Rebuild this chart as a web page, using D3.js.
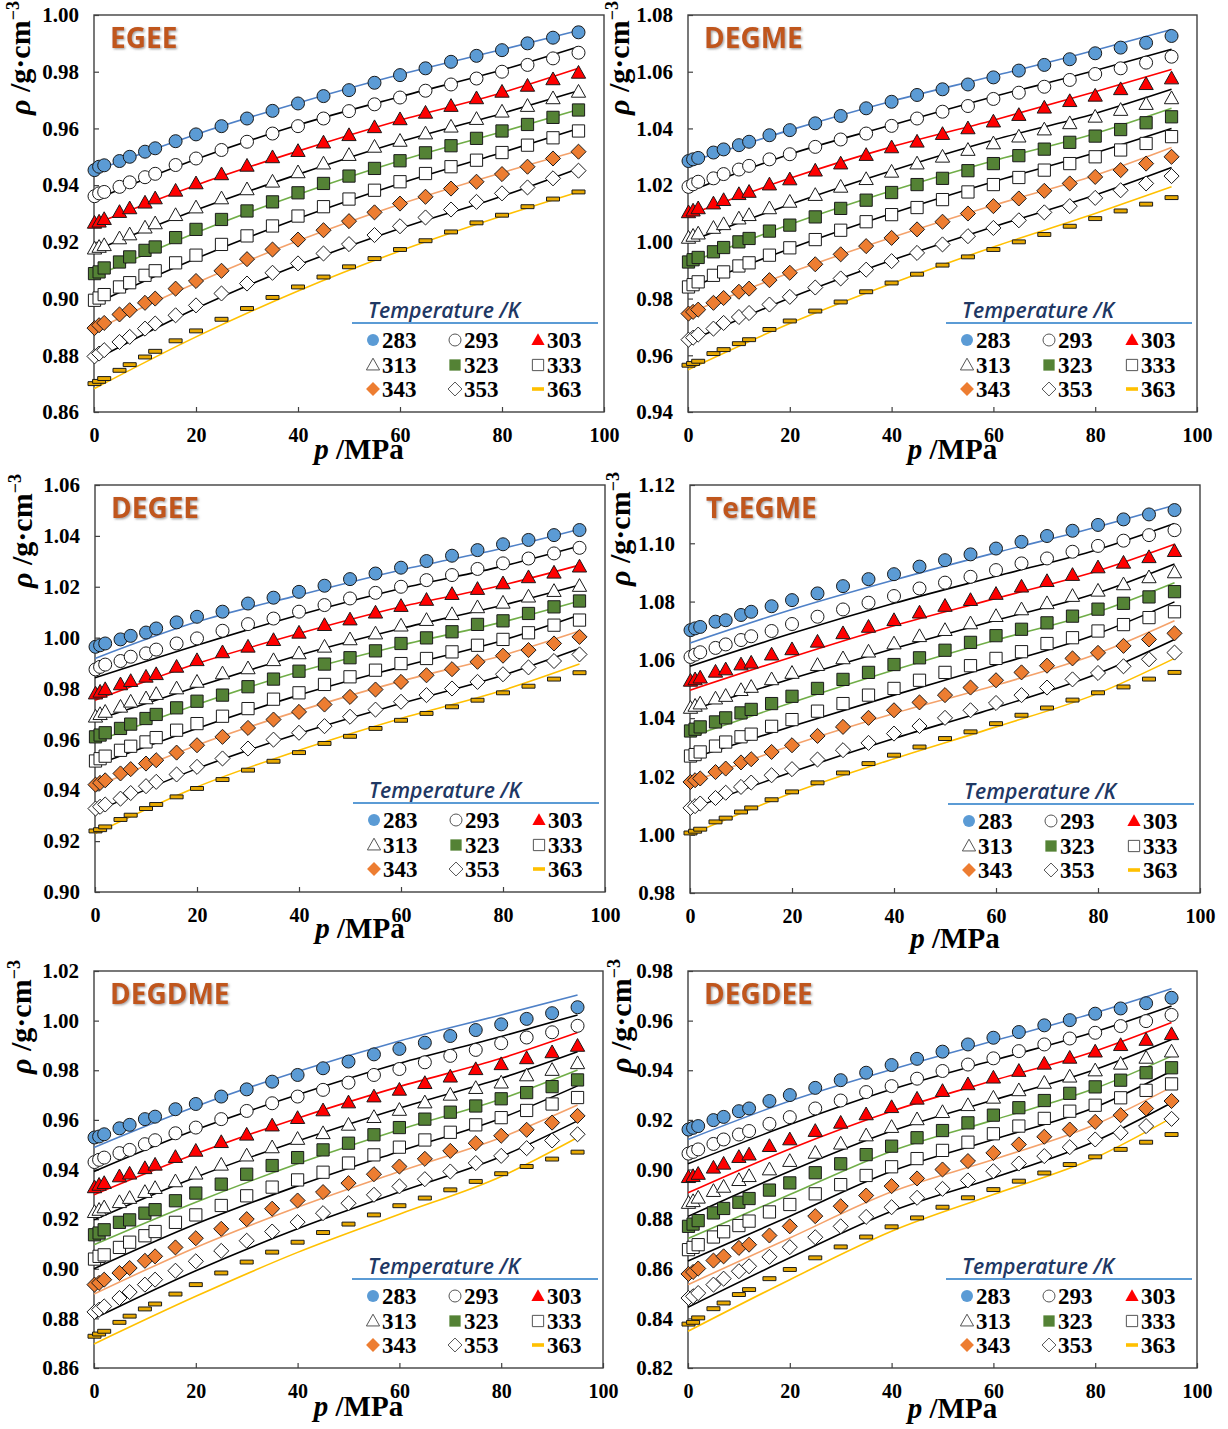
<!DOCTYPE html>
<html>
<head>
<meta charset="utf-8">
<script src="https://cdn.jsdelivr.net/npm/d3@7"></script>
<style>
  html, body { margin: 0; padding: 0; background: #ffffff; }
  svg { display: block; }
</style>
</head>
<body>
<svg id="chart" width="1228" height="1429"></svg>
<script>
// Measured pressures (MPa) and temperatures (K)
const pressures = [0.1, 1, 2, 5, 7, 10, 12, 16, 20, 25, 30, 35, 40, 45, 50, 55, 60, 65, 70, 75, 80, 85, 90, 95];
const fitPressures = [0, 20, 40, 60, 80, 95];
const temperatures = [283, 293, 303, 313, 323, 333, 343, 353, 363];
const xTicks = [0, 20, 40, 60, 80, 100];

// Density axes (g·cm-3)
const yTicksEGEE   = [0.86, 0.88, 0.90, 0.92, 0.94, 0.96, 0.98, 1.00];
const yTicksDEGME  = [0.94, 0.96, 0.98, 1.00, 1.02, 1.04, 1.06, 1.08];
const yTicksDEGEE  = [0.90, 0.92, 0.94, 0.96, 0.98, 1.00, 1.02, 1.04, 1.06];
const yTicksTeEGME = [0.98, 1.00, 1.02, 1.04, 1.06, 1.08, 1.10, 1.12];
const yTicksDEGDME = [0.86, 0.88, 0.90, 0.92, 0.94, 0.96, 0.98, 1.00, 1.02];
const yTicksDEGDEE = [0.82, 0.84, 0.86, 0.88, 0.90, 0.92, 0.94, 0.96, 0.98];

// Experimental densities, one row per temperature, one value per pressure
const rhoEGEE = [
  [0.9453,0.9465,0.9470,0.9485,0.9500,0.9518,0.9530,0.9555,0.9579,0.9608,0.9635,0.9662,0.9688,0.9714,0.9735,0.9761,0.9788,0.9812,0.9835,0.9856,0.9876,0.9900,0.9920,0.9939],
  [0.9361,0.9371,0.9376,0.9394,0.9410,0.9428,0.9440,0.9471,0.9494,0.9524,0.9553,0.9582,0.9608,0.9635,0.9661,0.9685,0.9709,0.9733,0.9755,0.9776,0.9800,0.9824,0.9847,0.9867],
  [0.9267,0.9271,0.9280,0.9305,0.9318,0.9338,0.9353,0.9380,0.9406,0.9438,0.9468,0.9498,0.9520,0.9550,0.9576,0.9604,0.9632,0.9655,0.9679,0.9706,0.9729,0.9750,0.9773,0.9796],
  [0.9176,0.9182,0.9188,0.9212,0.9226,0.9250,0.9265,0.9294,0.9321,0.9353,0.9385,0.9412,0.9445,0.9476,0.9506,0.9535,0.9556,0.9582,0.9606,0.9633,0.9659,0.9679,0.9706,0.9729],
  [0.9088,0.9094,0.9108,0.9129,0.9147,0.9170,0.9182,0.9215,0.9244,0.9279,0.9309,0.9341,0.9373,0.9406,0.9432,0.9459,0.9486,0.9514,0.9539,0.9565,0.9591,0.9614,0.9639,0.9665],
  [0.8994,0.9002,0.9014,0.9041,0.9056,0.9082,0.9098,0.9126,0.9153,0.9191,0.9221,0.9256,0.9291,0.9324,0.9351,0.9382,0.9412,0.9441,0.9465,0.9488,0.9515,0.9541,0.9567,0.9591],
  [0.8896,0.8906,0.8914,0.8944,0.8959,0.8985,0.9000,0.9035,0.9062,0.9098,0.9139,0.9173,0.9208,0.9241,0.9273,0.9304,0.9335,0.9359,0.9388,0.9412,0.9439,0.9465,0.9494,0.9518],
  [0.8796,0.8806,0.8818,0.8847,0.8865,0.8894,0.8912,0.8941,0.8976,0.9018,0.9053,0.9091,0.9124,0.9159,0.9192,0.9224,0.9255,0.9286,0.9314,0.9341,0.9371,0.9392,0.9424,0.9451],
  [0.8700,0.8708,0.8718,0.8747,0.8767,0.8794,0.8814,0.8851,0.8886,0.8927,0.8965,0.9004,0.9041,0.9076,0.9112,0.9141,0.9173,0.9204,0.9235,0.9267,0.9294,0.9324,0.9351,0.9376]
];
const rhoDEGME = [
  [1.0285,1.0291,1.0296,1.0315,1.0326,1.0341,1.0353,1.0376,1.0394,1.0418,1.0444,1.0471,1.0494,1.0518,1.0538,1.0555,1.0580,1.0604,1.0624,1.0644,1.0665,1.0685,1.0702,1.0726],
  [1.0194,1.0203,1.0212,1.0224,1.0239,1.0255,1.0268,1.0291,1.0309,1.0335,1.0361,1.0382,1.0409,1.0435,1.0459,1.0479,1.0504,1.0526,1.0547,1.0571,1.0592,1.0612,1.0632,1.0653],
  [1.0104,1.0110,1.0118,1.0135,1.0147,1.0168,1.0176,1.0202,1.0220,1.0251,1.0276,1.0306,1.0333,1.0353,1.0380,1.0400,1.0424,1.0447,1.0473,1.0496,1.0515,1.0538,1.0556,1.0576],
  [1.0014,1.0021,1.0029,1.0049,1.0062,1.0082,1.0094,1.0118,1.0141,1.0165,1.0194,1.0221,1.0247,1.0276,1.0300,1.0324,1.0347,1.0371,1.0396,1.0418,1.0441,1.0465,1.0486,1.0506],
  [0.9929,0.9937,0.9945,0.9965,0.9980,1.0000,1.0012,1.0038,1.0059,1.0088,1.0118,1.0147,1.0174,1.0202,1.0224,1.0251,1.0276,1.0304,1.0327,1.0351,1.0373,1.0396,1.0420,1.0441],
  [0.9841,0.9849,0.9859,0.9882,0.9894,0.9915,0.9926,0.9953,0.9979,1.0008,1.0041,1.0071,1.0096,1.0121,1.0149,1.0176,1.0202,1.0227,1.0253,1.0276,1.0300,1.0324,1.0347,1.0371],
  [0.9747,0.9753,0.9761,0.9785,0.9802,0.9824,0.9835,0.9865,0.9891,0.9921,0.9956,0.9985,1.0014,1.0044,1.0071,1.0100,1.0126,1.0153,1.0180,1.0206,1.0229,1.0253,1.0276,1.0300],
  [0.9655,0.9662,0.9673,0.9694,0.9714,0.9735,0.9749,0.9779,0.9806,0.9839,0.9871,0.9902,0.9932,0.9961,0.9991,1.0020,1.0049,1.0076,1.0104,1.0126,1.0155,1.0182,1.0206,1.0232],
  [0.9565,0.9571,0.9579,0.9606,0.9620,0.9641,0.9655,0.9691,0.9721,0.9756,0.9788,0.9824,0.9855,0.9886,0.9918,0.9947,0.9973,1.0000,1.0026,1.0055,1.0082,1.0109,1.0133,1.0156]
];
const rhoDEGEE = [
  [0.9964,0.9970,0.9977,0.9993,1.0007,1.0020,1.0036,1.0060,1.0082,1.0102,1.0134,1.0157,1.0180,1.0204,1.0230,1.0252,1.0275,1.0301,1.0322,1.0344,1.0367,1.0384,1.0403,1.0423],
  [0.9875,0.9885,0.9894,0.9908,0.9925,0.9938,0.9953,0.9977,0.9997,1.0027,1.0053,1.0075,1.0102,1.0128,1.0154,1.0176,1.0200,1.0226,1.0246,1.0270,1.0292,1.0311,1.0331,1.0353],
  [0.9780,0.9787,0.9797,0.9816,0.9829,0.9846,0.9856,0.9885,0.9911,0.9942,0.9964,0.9990,1.0019,1.0049,1.0071,1.0098,1.0124,1.0148,1.0171,1.0191,1.0213,1.0237,1.0255,1.0279],
  [0.9689,0.9699,0.9708,0.9728,0.9748,0.9761,0.9778,0.9800,0.9826,0.9859,0.9879,0.9911,0.9938,0.9964,0.9993,1.0016,1.0047,1.0069,1.0092,1.0119,1.0137,1.0161,1.0183,1.0203],
  [0.9610,0.9617,0.9626,0.9643,0.9660,0.9682,0.9698,0.9724,0.9750,0.9774,0.9807,0.9837,0.9868,0.9896,0.9921,0.9948,0.9977,0.9999,1.0023,1.0052,1.0066,1.0095,1.0121,1.0144],
  [0.9515,0.9524,0.9534,0.9557,0.9573,0.9590,0.9607,0.9636,0.9662,0.9691,0.9721,0.9758,0.9783,0.9816,0.9846,0.9872,0.9898,0.9918,0.9944,0.9970,0.9993,1.0019,1.0049,1.0069],
  [0.9422,0.9429,0.9439,0.9466,0.9483,0.9505,0.9518,0.9548,0.9577,0.9610,0.9645,0.9678,0.9708,0.9737,0.9767,0.9796,0.9826,0.9852,0.9876,0.9905,0.9929,0.9951,0.9977,1.0003],
  [0.9328,0.9335,0.9344,0.9367,0.9389,0.9416,0.9433,0.9462,0.9492,0.9525,0.9564,0.9599,0.9626,0.9652,0.9689,0.9717,0.9748,0.9774,0.9800,0.9826,0.9856,0.9883,0.9908,0.9934],
  [0.9240,0.9245,0.9256,0.9285,0.9302,0.9328,0.9344,0.9374,0.9407,0.9442,0.9479,0.9514,0.9548,0.9584,0.9612,0.9643,0.9675,0.9702,0.9728,0.9754,0.9783,0.9809,0.9837,0.9862]
];
const rhoTeEGME = [
  [1.0702,1.0708,1.0713,1.0731,1.0736,1.0754,1.0765,1.0784,1.0805,1.0828,1.0853,1.0877,1.0894,1.0920,1.0942,1.0962,1.0982,1.1005,1.1025,1.1043,1.1063,1.1082,1.1099,1.1114],
  [1.0610,1.0618,1.0626,1.0641,1.0653,1.0668,1.0681,1.0699,1.0723,1.0748,1.0773,1.0796,1.0819,1.0845,1.0865,1.0885,1.0908,1.0931,1.0948,1.0971,1.0991,1.1009,1.1028,1.1045],
  [1.0528,1.0533,1.0539,1.0559,1.0567,1.0584,1.0590,1.0618,1.0636,1.0662,1.0691,1.0713,1.0736,1.0762,1.0785,1.0805,1.0826,1.0851,1.0870,1.0891,1.0917,1.0933,1.0952,1.0973],
  [1.0435,1.0442,1.0450,1.0467,1.0476,1.0496,1.0507,1.0533,1.0555,1.0582,1.0605,1.0628,1.0656,1.0681,1.0702,1.0725,1.0750,1.0773,1.0794,1.0819,1.0837,1.0859,1.0883,1.0900],
  [1.0356,1.0362,1.0370,1.0387,1.0401,1.0418,1.0430,1.0450,1.0475,1.0502,1.0533,1.0557,1.0584,1.0607,1.0633,1.0660,1.0683,1.0705,1.0727,1.0750,1.0774,1.0794,1.0816,1.0834],
  [1.0270,1.0275,1.0284,1.0304,1.0318,1.0336,1.0345,1.0372,1.0395,1.0424,1.0450,1.0479,1.0502,1.0530,1.0557,1.0580,1.0605,1.0628,1.0656,1.0676,1.0699,1.0721,1.0745,1.0765],
  [1.0181,1.0187,1.0193,1.0215,1.0227,1.0248,1.0259,1.0284,1.0307,1.0339,1.0370,1.0401,1.0427,1.0454,1.0479,1.0505,1.0530,1.0557,1.0580,1.0605,1.0624,1.0648,1.0670,1.0691],
  [1.0092,1.0098,1.0107,1.0126,1.0144,1.0164,1.0179,1.0204,1.0225,1.0258,1.0290,1.0315,1.0347,1.0373,1.0401,1.0427,1.0452,1.0479,1.0505,1.0533,1.0555,1.0578,1.0602,1.0625],
  [1.0006,1.0012,1.0019,1.0044,1.0057,1.0078,1.0092,1.0120,1.0147,1.0178,1.0212,1.0244,1.0273,1.0301,1.0330,1.0353,1.0381,1.0410,1.0435,1.0462,1.0487,1.0507,1.0534,1.0557]
];
const rhoDEGDME = [
  [0.9529,0.9533,0.9542,0.9566,0.9580,0.9603,0.9613,0.9643,0.9664,0.9694,0.9723,0.9754,0.9781,0.9808,0.9835,0.9864,0.9886,0.9911,0.9938,0.9962,0.9985,1.0007,1.0030,1.0054],
  [0.9430,0.9439,0.9448,0.9466,0.9479,0.9502,0.9518,0.9546,0.9569,0.9603,0.9636,0.9667,0.9694,0.9721,0.9750,0.9781,0.9805,0.9832,0.9858,0.9882,0.9909,0.9932,0.9953,0.9979],
  [0.9328,0.9338,0.9345,0.9372,0.9383,0.9405,0.9419,0.9450,0.9475,0.9510,0.9540,0.9577,0.9607,0.9638,0.9670,0.9694,0.9721,0.9748,0.9774,0.9804,0.9824,0.9848,0.9872,0.9898],
  [0.9228,0.9237,0.9247,0.9268,0.9285,0.9309,0.9325,0.9352,0.9383,0.9419,0.9456,0.9489,0.9523,0.9546,0.9580,0.9611,0.9640,0.9670,0.9701,0.9728,0.9750,0.9779,0.9801,0.9828],
  [0.9137,0.9144,0.9157,0.9187,0.9197,0.9224,0.9238,0.9274,0.9305,0.9341,0.9381,0.9416,0.9448,0.9479,0.9506,0.9540,0.9569,0.9603,0.9631,0.9656,0.9685,0.9710,0.9734,0.9761],
  [0.9039,0.9050,0.9056,0.9086,0.9107,0.9133,0.9150,0.9187,0.9217,0.9255,0.9294,0.9329,0.9358,0.9389,0.9426,0.9459,0.9490,0.9519,0.9550,0.9580,0.9609,0.9638,0.9664,0.9690],
  [0.8936,0.8943,0.8956,0.8983,0.9003,0.9032,0.9050,0.9086,0.9123,0.9161,0.9200,0.9242,0.9275,0.9309,0.9345,0.9381,0.9412,0.9443,0.9475,0.9506,0.9536,0.9560,0.9589,0.9616],
  [0.8826,0.8835,0.8848,0.8882,0.8906,0.8936,0.8956,0.8992,0.9030,0.9072,0.9113,0.9150,0.9188,0.9224,0.9264,0.9298,0.9332,0.9361,0.9392,0.9426,0.9455,0.9486,0.9517,0.9542],
  [0.8728,0.8737,0.8748,0.8784,0.8809,0.8838,0.8858,0.8898,0.8936,0.8983,0.9027,0.9067,0.9107,0.9146,0.9180,0.9217,0.9254,0.9285,0.9318,0.9352,0.9383,0.9412,0.9442,0.9470]
];
const rhoDEGDEE = [
  [0.9161,0.9168,0.9175,0.9199,0.9212,0.9235,0.9246,0.9276,0.9300,0.9329,0.9360,0.9390,0.9421,0.9446,0.9475,0.9504,0.9531,0.9554,0.9581,0.9602,0.9628,0.9649,0.9670,0.9692],
  [0.9064,0.9071,0.9081,0.9103,0.9121,0.9141,0.9155,0.9184,0.9211,0.9246,0.9278,0.9312,0.9336,0.9366,0.9397,0.9423,0.9448,0.9477,0.9504,0.9528,0.9551,0.9578,0.9598,0.9623],
  [0.8969,0.8973,0.8982,0.9007,0.9023,0.9050,0.9060,0.9094,0.9121,0.9155,0.9188,0.9222,0.9251,0.9285,0.9316,0.9343,0.9370,0.9397,0.9426,0.9450,0.9475,0.9501,0.9522,0.9545],
  [0.8865,0.8872,0.8886,0.8913,0.8930,0.8957,0.8973,0.9000,0.9034,0.9067,0.9104,0.9137,0.9171,0.9202,0.9231,0.9259,0.9289,0.9319,0.9349,0.9374,0.9399,0.9426,0.9450,0.9475],
  [0.8771,0.8780,0.8794,0.8825,0.8843,0.8868,0.8883,0.8917,0.8946,0.8987,0.9023,0.9060,0.9094,0.9128,0.9157,0.9188,0.9219,0.9249,0.9278,0.9307,0.9333,0.9360,0.9390,0.9410],
  [0.8677,0.8686,0.8697,0.8728,0.8749,0.8774,0.8792,0.8829,0.8859,0.8902,0.8939,0.8976,0.9011,0.9044,0.9077,0.9110,0.9144,0.9175,0.9206,0.9235,0.9259,0.9289,0.9319,0.9345],
  [0.8579,0.8587,0.8601,0.8633,0.8650,0.8684,0.8697,0.8734,0.8771,0.8812,0.8852,0.8895,0.8933,0.8964,0.9000,0.9034,0.9067,0.9101,0.9132,0.9161,0.9192,0.9219,0.9246,0.9276],
  [0.8482,0.8489,0.8502,0.8536,0.8560,0.8590,0.8610,0.8648,0.8687,0.8727,0.8771,0.8809,0.8848,0.8886,0.8922,0.8956,0.8993,0.9024,0.9054,0.9090,0.9121,0.9148,0.9175,0.9204],
  [0.8377,0.8384,0.8402,0.8439,0.8462,0.8496,0.8516,0.8560,0.8597,0.8644,0.8688,0.8728,0.8769,0.8805,0.8848,0.8886,0.8919,0.8953,0.8986,0.9020,0.9051,0.9081,0.9110,0.9141]
];

// Correlated densities at fitPressures, one row per temperature
const fitEGEE = [
  [0.9450,0.9579,0.9690,0.9790,0.9878,0.9945],
  [0.9347,0.9491,0.9612,0.9712,0.9806,0.9888],
  [0.9262,0.9400,0.9520,0.9629,0.9726,0.9812],
  [0.9168,0.9312,0.9438,0.9553,0.9653,0.9733],
  [0.9076,0.9232,0.9367,0.9486,0.9588,0.9667],
  [0.8980,0.9141,0.9282,0.9406,0.9515,0.9600],
  [0.8888,0.9055,0.9204,0.9333,0.9444,0.9521],
  [0.8782,0.8965,0.9118,0.9247,0.9361,0.9459],
  [0.8682,0.8865,0.9027,0.9168,0.9291,0.9376]
];
const fitDEGME = [
  [1.0280,1.0394,1.0496,1.0585,1.0676,1.0749],
  [1.0176,1.0309,1.0412,1.0512,1.0604,1.0679],
  [1.0094,1.0224,1.0335,1.0429,1.0529,1.0608],
  [1.0000,1.0132,1.0251,1.0359,1.0453,1.0538],
  [0.9924,1.0061,1.0180,1.0286,1.0382,1.0471],
  [0.9835,0.9976,1.0100,1.0212,1.0314,1.0400],
  [0.9747,0.9891,1.0015,1.0129,1.0235,1.0333],
  [0.9647,0.9802,0.9935,1.0053,1.0165,1.0262],
  [0.9549,0.9712,0.9853,0.9982,1.0100,1.0194]
];
const fitDEGEE = [
  [0.9918,1.0062,1.0167,1.0266,1.0351,1.0426],
  [0.9842,0.9970,1.0089,1.0193,1.0281,1.0360],
  [0.9754,0.9898,1.0016,1.0121,1.0207,1.0285],
  [0.9675,0.9807,0.9931,1.0036,1.0128,1.0207],
  [0.9590,0.9737,0.9866,0.9970,1.0062,1.0144],
  [0.9498,0.9643,0.9774,0.9885,0.9990,1.0089],
  [0.9413,0.9577,0.9712,0.9829,0.9931,1.0026],
  [0.9315,0.9485,0.9623,0.9741,0.9852,0.9957],
  [0.9230,0.9413,0.9557,0.9682,0.9793,0.9896]
];
const fitTeEGME = [
  [1.0658,1.0773,1.0874,1.0968,1.1057,1.1131],
  [1.0578,1.0691,1.0794,1.0887,1.0979,1.1068],
  [1.0496,1.0610,1.0717,1.0811,1.0906,1.0997],
  [1.0427,1.0536,1.0639,1.0736,1.0830,1.0929],
  [1.0336,1.0454,1.0565,1.0668,1.0765,1.0865],
  [1.0261,1.0372,1.0479,1.0582,1.0690,1.0799],
  [1.0178,1.0307,1.0416,1.0513,1.0622,1.0734],
  [1.0087,1.0215,1.0330,1.0436,1.0553,1.0670],
  [1.0000,1.0143,1.0261,1.0370,1.0485,1.0605]
];
const fitDEGDME = [
  [0.9489,0.9654,0.9795,0.9918,1.0023,1.0103],
  [0.9392,0.9560,0.9701,0.9828,0.9936,1.0023],
  [0.9298,0.9463,0.9607,0.9734,0.9848,0.9952],
  [0.9197,0.9369,0.9515,0.9647,0.9768,0.9875],
  [0.9097,0.9268,0.9423,0.9560,0.9684,0.9801],
  [0.9000,0.9180,0.9334,0.9473,0.9607,0.9737],
  [0.8898,0.9086,0.9248,0.9392,0.9529,0.9660],
  [0.8799,0.8992,0.9161,0.9309,0.9452,0.9596],
  [0.8697,0.8889,0.9066,0.9220,0.9372,0.9529]
];
const fitDEGDEE = [
  [0.9121,0.9276,0.9403,0.9518,0.9632,0.9729],
  [0.9023,0.9181,0.9323,0.9440,0.9555,0.9659],
  [0.8906,0.9083,0.9235,0.9359,0.9477,0.9592],
  [0.8811,0.8993,0.9155,0.9280,0.9403,0.9524],
  [0.8722,0.8899,0.9074,0.9199,0.9327,0.9457],
  [0.8631,0.8812,0.8993,0.9121,0.9251,0.9397],
  [0.8536,0.8724,0.8910,0.9040,0.9181,0.9332],
  [0.8445,0.8644,0.8832,0.8966,0.9114,0.9269],
  [0.8348,0.8556,0.8751,0.8899,0.9047,0.9208]
];

// Panel placement on the page
const panels = [
  { name: "EGEE",   rho: rhoEGEE,   fit: fitEGEE,   yTicks: yTicksEGEE,   left: 94,  right: 604,  top: 15,  bottom: 412,  titleX: 30,  titleDY: 43, xTitleDY: 47 },
  { name: "DEGME",  rho: rhoDEGME,  fit: fitDEGME,  yTicks: yTicksDEGME,  left: 688, right: 1197, top: 15,  bottom: 412,  titleX: 629, titleDY: 43, xTitleDY: 47 },
  { name: "DEGEE",  rho: rhoDEGEE,  fit: fitDEGEE,  yTicks: yTicksDEGEE,  left: 95,  right: 605,  top: 485, bottom: 892,  titleX: 32,  titleDY: 46, xTitleDY: 46 },
  { name: "TeEGME", rho: rhoTeEGME, fit: fitTeEGME, yTicks: yTicksTeEGME, left: 690, right: 1200, top: 485, bottom: 893,  titleX: 630, titleDY: 44, xTitleDY: 55 },
  { name: "DEGDME", rho: rhoDEGDME, fit: fitDEGDME, yTicks: yTicksDEGDME, left: 94,  right: 603,  top: 971, bottom: 1368, titleX: 31,  titleDY: 46, xTitleDY: 48 },
  { name: "DEGDEE", rho: rhoDEGDEE, fit: fitDEGDEE, yTicks: yTicksDEGDEE, left: 688, right: 1197, top: 971, bottom: 1368, titleX: 631, titleDY: 45, xTitleDY: 50 }
];

// Marker and line style per temperature
const seriesStyle = [
  { shape: "circle",   fill: "#5B9BD5", line: "#4F81C7" },
  { shape: "circle",   fill: "#FFFFFF", line: "#000000" },
  { shape: "triangle", fill: "#FF0000", line: "#FF0000" },
  { shape: "triangle", fill: "#FFFFFF", line: "#000000" },
  { shape: "square",   fill: "#548235", line: "#70AD47" },
  { shape: "square",   fill: "#FFFFFF", line: "#000000" },
  { shape: "diamond",  fill: "#ED7D31", line: "#F4A26B" },
  { shape: "diamond",  fill: "#FFFFFF", line: "#000000" },
  { shape: "dash",     fill: "#E8A900", line: "#FFC000" }
];

const SERIF = "'Liberation Serif', 'Times New Roman', serif";
const SANS = "'Open Sans', 'Noto Sans', sans-serif";

const svg = d3.select("#chart");
const defs = svg.append("defs");
const shadow = defs.append("filter").attr("id", "nameShadow")
  .attr("x", "-10%").attr("y", "-20%").attr("width", "130%").attr("height", "150%");
shadow.append("feDropShadow").attr("dx", 1.2).attr("dy", 1.2)
  .attr("stdDeviation", 0.8).attr("flood-color", "#808080").attr("flood-opacity", 0.75);
const blur = defs.append("filter").attr("id", "softBlur")
  .attr("x", "-5%").attr("y", "-200%").attr("width", "110%").attr("height", "500%");
blur.append("feGaussianBlur").attr("stdDeviation", 1.3);

// Path for a marker shape centred on the origin
function shapePath(shape, s) {
  const p = d3.path();
  if (shape === "circle") {
    p.arc(0, 0, s * 0.5, 0, 2 * Math.PI);
  } else if (shape === "triangle") {
    const w = s * 1.1, h = s * 0.98;
    p.moveTo(0, -h * 0.58); p.lineTo(w / 2, h * 0.42); p.lineTo(-w / 2, h * 0.42); p.closePath();
  } else if (shape === "square") {
    const a = s * 0.47;
    p.rect(-a, -a, 2 * a, 2 * a);
  } else if (shape === "diamond") {
    const a = s * 0.58;
    p.moveTo(0, -a); p.lineTo(a, 0); p.lineTo(0, a); p.lineTo(-a, 0); p.closePath();
  } else if (shape === "dash") {
    p.rect(-s * 0.5, -s * 0.15, s, s * 0.3);
  }
  return p.toString();
}

panels.forEach(P => {
  const x = d3.scaleLinear().domain([0, 100]).range([P.left, P.right]);
  const y = d3.scaleLinear()
    .domain([P.yTicks[0], P.yTicks[P.yTicks.length - 1]])
    .range([P.bottom, P.top]);
  const g = svg.append("g").attr("class", "panel");

  // axes with inward ticks
  const xAxis = g.append("g").attr("transform", `translate(0,${P.bottom})`)
    .call(d3.axisBottom(x).tickValues(xTicks).tickSize(-5).tickPadding(16).tickFormat(d3.format("d")));
  const yAxis = g.append("g").attr("transform", `translate(${P.left},0)`)
    .call(d3.axisLeft(y).tickValues(P.yTicks).tickSize(-5).tickPadding(15).tickFormat(d3.format(".2f")));
  [xAxis, yAxis].forEach(a => {
    a.select(".domain").remove();
    a.selectAll(".tick line").attr("stroke", "#404040").attr("stroke-width", 1.2);
    a.selectAll(".tick text")
      .attr("fill", "#000")
      .style("font-family", SERIF).style("font-weight", "bold");
  });
  xAxis.selectAll(".tick text").style("font-size", "20px");
  yAxis.selectAll(".tick text").style("font-size", "21px");

  // plot frame
  g.append("rect")
    .attr("x", P.left).attr("y", P.top)
    .attr("width", P.right - P.left).attr("height", P.bottom - P.top)
    .attr("fill", "none").attr("stroke", "#404040").attr("stroke-width", 1.4);

  // correlation curves
  const line = d3.line().x(d => x(d[0])).y(d => y(d[1])).curve(d3.curveMonotoneX);
  P.fit.forEach((row, i) => {
    g.append("path")
      .datum(fitPressures.map((p, k) => [p, row[k]]))
      .attr("d", line)
      .attr("fill", "none")
      .attr("stroke", seriesStyle[i].line)
      .attr("stroke-width", 1.6);
  });

  // experimental points
  P.rho.forEach((row, i) => {
    const st = seriesStyle[i];
    g.append("g").selectAll("path")
      .data(pressures.map((p, k) => [p, row[k]]))
      .join("path")
      .attr("transform", d => `translate(${x(d[0])},${y(d[1])})`)
      .attr("d", shapePath(st.shape, 13))
      .attr("fill", st.fill)
      .attr("stroke", "#1a1a1a")
      .attr("stroke-width", 1);
  });

  // compound name
  g.append("text")
    .attr("x", P.left + 16).attr("y", P.top + 33)
    .attr("fill", "#C0561A")
    .attr("filter", "url(#nameShadow)")
    .style("font-family", SANS).style("font-weight", "bold").style("font-size", "28px")
    .text(P.name);

  // y-axis title
  const yt = g.append("text")
    .attr("transform", `translate(${P.titleX},${P.top + P.titleDY}) rotate(-90)`)
    .attr("text-anchor", "middle")
    .style("font-family", SERIF).style("font-weight", "bold").style("font-size", "30px");
  yt.append("tspan").style("font-style", "italic").text("ρ");
  yt.append("tspan").text(" /g·cm");
  yt.append("tspan").attr("dy", -11).style("font-size", "18px").text("−3");

  // x-axis title
  const xt = g.append("text")
    .attr("x", (P.left + P.right) / 2 + 10).attr("y", P.bottom + P.xTitleDY)
    .attr("text-anchor", "middle")
    .style("font-family", SERIF).style("font-weight", "bold").style("font-size", "29px");
  xt.append("tspan").style("font-style", "italic").text("p");
  xt.append("tspan").text(" /MPa");

  // legend
  const lg = g.append("g").attr("transform", `translate(${P.left},${P.bottom})`);
  lg.append("text")
    .attr("x", 274).attr("y", -94)
    .attr("fill", "#1F3864")
    .attr("textLength", 152).attr("lengthAdjust", "spacingAndGlyphs")
    .style("font-family", SANS).style("font-style", "italic").style("font-weight", 600).style("font-size", "21px")
    .text("Temperature /K");
  lg.append("line")
    .attr("x1", 258).attr("x2", 504).attr("y1", -86).attr("y2", -86)
    .attr("stroke", "#9a9a9a").attr("stroke-width", 3).attr("opacity", 0.55)
    .attr("filter", "url(#softBlur)");
  lg.append("line")
    .attr("x1", 258).attr("x2", 504).attr("y1", -89).attr("y2", -89)
    .attr("stroke", "#5B9BD5").attr("stroke-width", 2);
  const colX = [279, 361, 444];
  const rowY = [-72, -47, -23];
  temperatures.forEach((t, i) => {
    const st = seriesStyle[i];
    const cx = colX[i % 3], cy = rowY[Math.floor(i / 3)];
    const open = st.fill === "#FFFFFF";
    lg.append("path")
      .attr("transform", `translate(${cx},${cy})`)
      .attr("d", shapePath(st.shape, 12))
      .attr("fill", st.shape === "dash" ? "#FFC000" : st.fill)
      .attr("stroke", open ? "#555" : "none")
      .attr("stroke-width", 1);
    lg.append("text")
      .attr("x", cx + 9).attr("y", cy + 8)
      .style("font-family", SERIF).style("font-weight", "bold").style("font-size", "23px")
      .text(t);
  });
});
</script>
</body>
</html>
